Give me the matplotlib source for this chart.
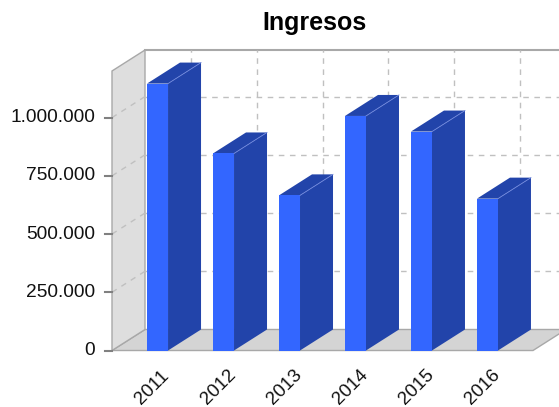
import matplotlib
matplotlib.use('Agg')
import matplotlib.pyplot as plt
from matplotlib.patches import Polygon
from matplotlib.transforms import ScaledTranslation

plt.rcParams['font.family'] = ['Liberation Sans', 'DejaVu Sans']

# data
years = ['2011', '2012', '2013', '2014', '2015', '2016']
ingresos = [1146000, 846000, 666000, 1007000, 940000, 652000]
yticks = [0, 250000, 500000, 750000, 1000000]

W, H = 559, 407
fig = plt.figure(figsize=(W / 100, H / 100), dpi=100)
ax = fig.add_axes([112 / W, (H - 350.5) / H, 421 / W, 279.5 / H])
ax.set_xlim(-0.69, len(years) - 1 + 0.69)
ax.set_ylim(0, 1200000)
ax.axis('off')

x0, x1 = ax.get_xlim()
y0, y1 = ax.get_ylim()
px_x = 421 / (x1 - x0)
px_y = 279.5 / (y1 - y0)

# 3d depth offset
dx = 33 / px_x
dy = 21 / px_y

front = '#3366ff'
side = '#2244aa'
wall_edge = '#a8a8a8'
grid_col = '#c0c0c0'

# walls
floor = Polygon([(x0, 0), (x1, 0), (x1 + dx, dy), (x0 + dx, dy)],
                closed=True, fc='#d4d4d4', ec=wall_edge, lw=1, clip_on=False, zorder=1)
left = Polygon([(x0, 0), (x0, y1), (x0 + dx, y1 + dy), (x0 + dx, dy)],
               closed=True, fc='#dedede', ec=wall_edge, lw=1, clip_on=False, zorder=1)
ax.add_patch(floor)
ax.add_patch(left)
ax.plot([x0 + dx, x1 + dx + 1], [y1 + dy, y1 + dy], color=wall_edge, lw=1.5, clip_on=False, zorder=1)

# gridlines
for t in yticks[1:]:
    ax.plot([x0 + dx, x1 + dx + 1], [t + dy, t + dy], color=grid_col, lw=1,
            ls=(0, (4, 4)), clip_on=False, zorder=2)
    ax.plot([x0, x0 + dx], [t, t + dy], color=grid_col, lw=1,
            ls=(0, (4, 4)), clip_on=False, zorder=2)
for i in range(len(years)):
    ax.plot([i + dx, i + dx], [dy, y1 + dy], color=grid_col, lw=1,
            ls=(0, (4, 4)), clip_on=False, zorder=2)

# bars
w = 21 / px_x
for i, v in enumerate(ingresos):
    l = i - w / 2
    r = i + w / 2
    ax.add_patch(Polygon([(r, 0), (r, v), (r + dx, v + dy), (r + dx, dy)],
                         closed=True, fc=side, ec='none', clip_on=False, zorder=3))
    ax.add_patch(Polygon([(l, v), (r, v), (r + dx, v + dy), (l + dx, v + dy)],
                         closed=True, fc=side, ec='none', clip_on=False, zorder=3))
    ax.add_patch(Polygon([(l, 0), (r, 0), (r, v), (l, v)],
                         closed=True, fc=front, ec='none', clip_on=False, zorder=4))
    ax.plot([r, r + dx], [v, v + dy], color='#7088dd', lw=0.6, clip_on=False, zorder=5)

# y axis ticks and labels
for t in yticks:
    ax.plot([x0 - 7 / px_x, x0], [t, t], color='#808080', lw=1.5, clip_on=False, zorder=5)
    ax.text(x0 - 17 / px_x, t, '{:,.0f}'.format(t).replace(',', '.'),
            ha='right', va='center', fontsize=13.8, color='#111111')

# category labels
off = ScaledTranslation(-5 / 100, -37 / 100, fig.dpi_scale_trans)
for i, yr in enumerate(years):
    ax.text(i, 0, yr, rotation=45, ha='center', va='center', fontsize=13.5,
            color='#111111', transform=ax.transData + off)

fig.text(314 / W, 1 - 30 / H, 'Ingresos', fontsize=18, fontweight='bold',
         ha='center', va='baseline')

fig.savefig('out.png', dpi=100)
